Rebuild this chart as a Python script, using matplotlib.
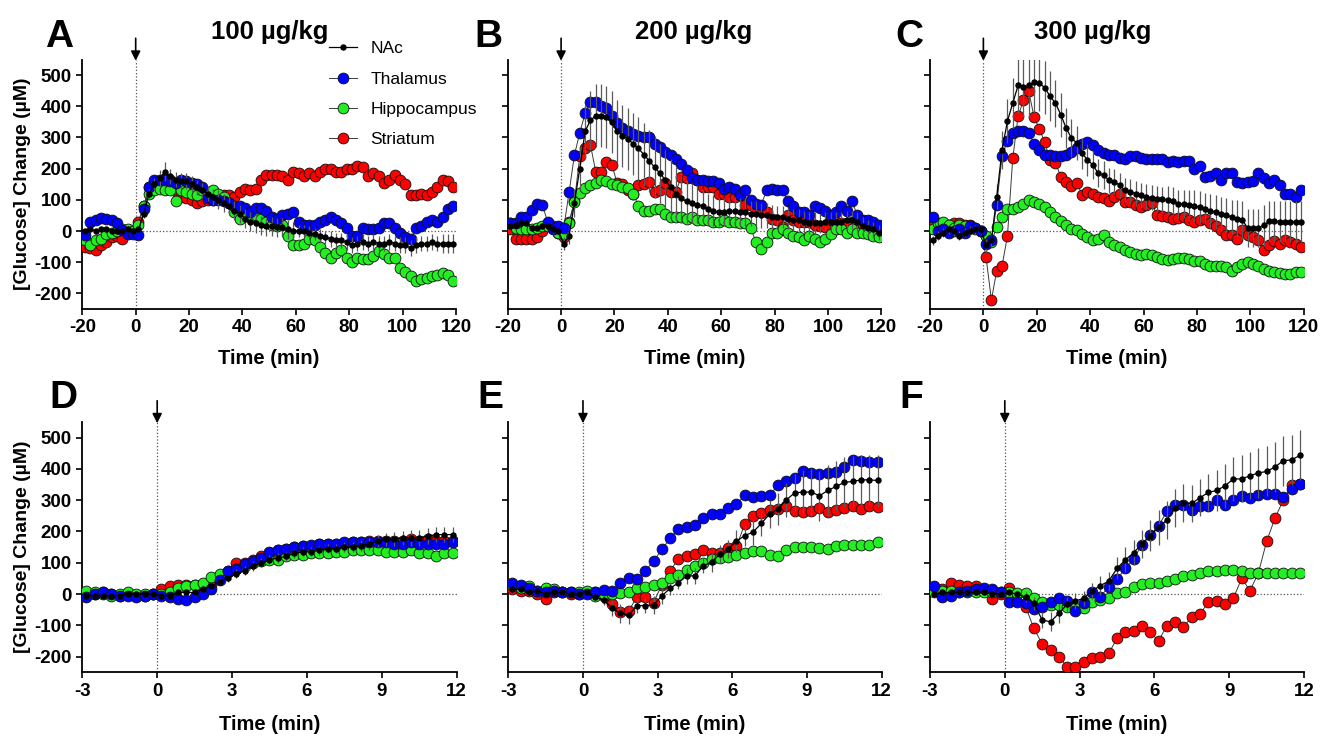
import numpy as np
import matplotlib
matplotlib.use('Agg')
import matplotlib.pyplot as plt
from matplotlib.lines import Line2D

plt.rcParams['font.family'] = ['Liberation Sans', 'DejaVu Sans']
plt.rcParams['axes.unicode_minus'] = False

# sample times: 2-min bins (top row), 20-s bins (bottom row)
t_long = np.arange(-19, 120, 2)
t_short = np.arange(-17, 72, 2) / 6.0

# ---------------- A : 100 ug/kg, 2-min bins ----------------
a_nac = [0, 5, 0, 5, 5, 0, 0, 0, 5, 0,
         5, 55, 120, 150, 170, 190, 175, 165, 160, 160,
         150, 140, 130, 120, 110, 100, 90, 80, 65, 55,
         40, 30, 25, 18, 15, 15, 12, 12, 5, 0,
         0, 0, -5, -10, -15, -20, -25, -30, -30, -35,
         -45, -40, -35, -40, -35, -40, -40, -35, -40, -45,
         -45, -55, -45, -40, -40, -35, -40, -40, -40, -40]
a_nac_sem = [8, 8, 8, 8, 8, 8, 8, 8, 8, 8,
             8, 12, 15, 20, 25, 30, 25, 25, 25, 25,
             25, 25, 25, 25, 25, 30, 30, 30, 30, 30,
             30, 30, 30, 30, 30, 30, 30, 30, 30, 30,
             20, 20, 20, 20, 20, 20, 25, 25, 25, 25,
             25, 25, 25, 25, 25, 25, 25, 25, 25, 25,
             25, 25, 25, 25, 25, 25, 25, 30, 30, 30]
a_thal = [-13, 30, 35, 41, 38, 35, 25, 3, -10, -8,
          -13, 70, 140, 165, 165, 165, 160, 155, 165, 160,
          155, 150, 140, 105, 100, 100, 95, 90, 80, 80,
          75, 60, 75, 75, 65, 45, 40, 50, 55, 60,
          30, 20, 20, 20, 30, 35, 45, 35, 25, 10,
          -15, -15, 10, 5, 5, 10, 25, 25, 10, -5,
          -20, -25, 10, 15, 30, 35, 30, 45, 70, 80]
a_hipp = [-30, -45, -30, -25, -10, -5, 0, 5, 5, 0,
          20, 80, 120, 130, 135, 130, 130, 95, 130, 125,
          120, 115, 130, 125, 130, 120, 110, 90, 60, 40,
          55, 45, 50, 40, 30, 20, 15, 20, -15, -45,
          -45, -40, -25, -30, -50, -70, -85, -70, -60, -85,
          -100, -85, -90, -90, -80, -65, -75, -85, -85, -120,
          -130, -145, -160, -155, -150, -145, -140, -135, -140, -160]
a_str = [-50, -55, -60, -45, -35, -20, -15, -25, -5, 0,
         30, 80, 140, 155, 160, 165, 165, 130, 110, 105,
         100, 90, 95, 100, 100, 105, 115, 115, 110, 125,
         135, 130, 135, 165, 180, 180, 180, 175, 165, 190,
         185, 175, 185, 175, 190, 200, 200, 190, 190, 200,
         200, 210, 205, 175, 185, 175, 155, 165, 180, 165,
         150, 115, 115, 120, 115, 125, 140, 165, 160, 140]

# ---------------- B : 200 ug/kg ----------------
b_nac = [15, 20, 25, 25, 10, 10, 15, 15, 5, 0,
         -40, -15, 90, 200, 320, 355, 370, 370, 365, 350,
         320, 305, 295, 280, 265, 245, 225, 205, 185, 165,
         140, 120, 105, 95, 90, 85, 80, 70, 65, 60,
         60, 65, 65, 60, 60, 55, 55, 50, 50, 45,
         45, 45, 40, 35, 35, 30, 25, 25, 25, 30,
         30, 30, 30, 35, 35, 30, 15, 10, 5, -5]
b_nac_sem = [10, 10, 10, 10, 10, 10, 10, 10, 10, 10,
             20, 25, 45, 70, 85, 95, 100, 100, 100, 100,
             100, 100, 100, 100, 100, 100, 100, 100, 95, 95,
             90, 85, 80, 70, 65, 60, 55, 50, 50, 45,
             45, 45, 45, 45, 45, 40, 40, 40, 40, 40,
             35, 35, 35, 35, 35, 35, 35, 35, 30, 30,
             30, 30, 30, 30, 30, 30, 30, 25, 25, 25]
b_thal = [25, 25, 45, 45, 66, 88, 83, 29, 5, 15,
          10, 125, 244, 315, 377, 415, 415, 400, 396, 370,
          345, 330, 320, 310, 305, 300, 300, 280, 270, 255,
          245, 230, 215, 195, 170, 165, 165, 160, 160, 155,
          135, 140, 135, 115, 130, 100, 88, 85, 130, 135,
          130, 130, 95, 80, 60, 60, 50, 80, 75, 65,
          50, 60, 80, 65, 95, 50, 35, 35, 30, 20]
b_hipp = [25, 10, 5, 5, 5, 10, 15, 15, 10, -5,
          -10, 25, 94, 122, 137, 147, 155, 163, 160, 150,
          147, 140, 137, 120, 80, 65, 65, 70, 70, 55,
          45, 45, 45, 40, 45, 35, 35, 35, 30, 30,
          35, 30, 30, 25, 25, 10, -35, -57, -35, -6,
          -5, 5, -5, -15, -20, -30, -15, -25, -35, -25,
          -10, 5, 5, -5, 5, -5, -5, -10, -15, -20]
b_str = [5, -25, -25, -25, -25, -20, 0, 25, 15, -5,
         -20, 30, 95, 239, 266, 276, 190, 190, 222, 212,
         155, 150, 130, 120, 147, 150, 158, 126, 131, 153,
         126, 126, 174, 170, 185, 163, 142, 142, 142, 120,
         120, 110, 110, 115, 83, 83, 72, 70, 60, 40,
         34, 13, 50, 35, 29, 30, 30, 20, 15, 13,
         35, 30, 25, 25, 30, 30, 20, 10, 10, 10]

# ---------------- C : 300 ug/kg ----------------
c_nac = [-30, -15, -5, 5, 0, -15, -5, 0, 5, 5,
         -46, -30, 110, 260, 352, 410, 467, 462, 467, 477,
         475, 459, 432, 410, 373, 330, 298, 282, 249, 228,
         212, 185, 180, 163, 158, 147, 131, 126, 120, 115,
         110, 107, 104, 102, 99, 95, 88, 86, 83, 80,
         77, 72, 65, 60, 55, 51, 45, 40, 35, 10,
         10, 10, 18, 31, 32, 30, 30, 30, 30, 30]
c_nac_sem = [15, 15, 15, 15, 15, 15, 15, 15, 15, 15,
             20, 20, 40, 60, 70, 80, 90, 95, 100, 95,
             90, 85, 80, 75, 70, 65, 60, 55, 50, 50,
             45, 45, 45, 40, 40, 40, 40, 40, 40, 40,
             40, 40, 40, 40, 45, 45, 45, 45, 50, 50,
             50, 50, 55, 55, 55, 55, 55, 60, 60, 60,
             60, 60, 65, 65, 65, 65, 65, 65, 65, 65]
c_thal = [45, 0, 5, -5, 0, 5, -5, 15, 10, 0,
          -40, -30, 85, 240, 290, 315, 320, 320, 315, 280,
          260, 245, 245, 240, 240, 245, 255, 265, 280, 285,
          275, 260, 250, 245, 245, 235, 230, 240, 240, 235,
          230, 230, 230, 230, 220, 225, 220, 225, 225, 200,
          210, 172, 175, 185, 165, 185, 187, 158, 155, 158,
          160, 187, 169, 153, 163, 147, 120, 120, 110, 131]
c_hipp = [8, 26, 29, 20, 10, 20, 15, 10, 5, 0,
          -15, -35, 13, 45, 72, 70, 77, 88, 101, 94,
          86, 77, 61, 45, 32, 18, 8, 2, -9, -19,
          -30, -25, -14, -35, -46, -52, -62, -68, -73, -78,
          -75, -78, -84, -89, -92, -89, -86, -86, -89, -95,
          -95, -105, -111, -111, -113, -116, -127, -114, -105, -100,
          -105, -111, -121, -127, -132, -135, -138, -138, -132, -132]
c_str = [15, 10, 15, 20, 25, 25, 20, 20, 10, 0,
         -84, -221, -127, -111, -17, 233, 368, 419, 448, 365,
         327, 284, 228, 219, 174, 158, 144, 153, 117, 126,
         120, 110, 105, 97, 108, 120, 94, 94, 85, 77,
         83, 91, 51, 47, 45, 40, 42, 45, 34, 29,
         34, 40, 26, 15, 2, -14, -14, -25, 2, -14,
         -20, -28, -60, -46, -32, -41, -28, -35, -41, -52]

# ---------------- D : 100 ug/kg, 20-s bins ----------------
d_nac = [-5, -5, -5, -5, -5, 0, 0, 0, 0,
         -5, -5, 5, 5, 5, 15, 25, 40, 50, 65,
         75, 90, 100, 110, 115, 120, 130, 135, 135, 140,
         145, 145, 150, 150, 155, 160, 170, 175, 175, 180,
         180, 180, 185, 190, 190, 190]
d_nac_sem = [5, 5, 5, 5, 5, 5, 5, 5, 5,
             5, 5, 8, 8, 10, 10, 12, 12, 12, 15,
             15, 15, 15, 15, 15, 15, 15, 15, 15, 15,
             15, 15, 15, 15, 18, 18, 20, 20, 22, 22,
             25, 25, 25, 25, 25, 25]
d_thal = [-10, 0, 5, 0, -5, -5, -10, -5, 0,
          -5, -10, -15, -20, -10, 0, 15, 45, 75, 80,
          95, 105, 115, 135, 140, 145, 150, 155, 157, 160,
          160, 160, 165, 165, 165, 165, 165, 165, 160, 160,
          165, 160, 160, 160, 160, 165]
d_hipp = [10, 5, 0, -5, 0, 5, 0, 0, 0,
          0, 5, 20, 25, 30, 35, 55, 65, 75, 80,
          90, 100, 105, 110, 110, 120, 125, 125, 130, 130,
          130, 135, 135, 140, 140, 140, 140, 135, 135, 135,
          140, 130, 130, 120, 130, 130]
d_str = [-5, 0, 5, 0, -5, 0, -5, -5, 0,
         15, 25, 30, 30, 30, 30, 30, 55, 70, 100,
         100, 110, 120, 130, 140, 145, 150, 155, 155, 160,
         160, 160, 160, 165, 165, 170, 170, 170, 170, 170,
         175, 170, 175, 170, 170, 170]

# ---------------- E : 200 ug/kg, 20-s bins ----------------
e_nac = [15, 15, 5, 10, 0, 5, 5, 0, 0,
         5, -10, -20, -45, -62, -67, -37, -37, -35, -6,
         18, 36, 58, 58, 91, 101, 128, 144, 169, 187,
         198, 226, 256, 272, 301, 323, 326, 326, 314, 331,
         344, 357, 360, 365, 365, 363]
e_nac_sem = [8, 8, 8, 8, 8, 8, 8, 8, 8,
             8, 10, 15, 25, 30, 30, 25, 25, 30, 25,
             20, 20, 25, 25, 25, 30, 30, 30, 35, 35,
             40, 40, 45, 50, 55, 60, 70, 75, 80, 80,
             80, 80, 80, 80, 80, 80]
e_thal = [35, 30, 20, 10, 5, 10, 5, 5, 0,
          0, 5, 13, 11, 34, 50, 47, 75, 104, 143,
          178, 207, 214, 221, 243, 256, 256, 275, 287, 315,
          310, 312, 315, 349, 360, 371, 392, 387, 384, 387,
          390, 406, 430, 424, 422, 421]
e_hipp = [30, 20, 25, 10, 20, 15, 5, 5, 5,
          10, -5, 0, 0, 2, 7, 18, 22, 30, 34,
          50, 61, 77, 88, 100, 111, 114, 117, 125, 130,
          136, 138, 125, 122, 141, 150, 150, 150, 148, 143,
          154, 156, 156, 156, 158, 165]
e_str = [15, 10, 10, 0, -15, 5, 5, 0, 0,
         5, 5, -5, -33, -57, -55, -8, -8, -28, 30,
         75, 111, 120, 127, 141, 130, 132, 146, 152, 224,
         248, 258, 269, 272, 280, 266, 261, 264, 275, 261,
         269, 275, 280, 272, 280, 278]

# ---------------- F : 300 ug/kg, 20-s bins ----------------
f_nac = [0, 5, 5, 5, 5, 5, 5, 0, 0,
         5, 0, -10, -30, -83, -89, -62, -33, -22, -14,
         10, 27, 41, 82, 109, 132, 160, 187, 213, 237,
         275, 291, 290, 308, 325, 331, 346, 368, 368, 378,
         387, 392, 406, 426, 429, 443]
f_nac_sem = [8, 8, 8, 8, 8, 8, 8, 8, 8,
             8, 10, 15, 20, 25, 30, 30, 25, 25, 25,
             25, 30, 30, 35, 40, 40, 45, 50, 55, 60,
             60, 60, 60, 60, 60, 65, 70, 70, 75, 75,
             80, 80, 80, 80, 80, 80]
f_thal = [25, -10, -5, 5, 10, 15, 20, 15, 5,
          -25, -25, -30, -48, -43, -25, -14, -22, -53, -28,
          7, -9, 24, 47, 82, 113, 157, 189, 218, 264,
          284, 284, 269, 280, 280, 301, 285, 301, 314, 307,
          317, 320, 320, 310, 335, 351]
f_hipp = [5, 10, 10, 5, 5, 5, 5, 5, 5,
          7, 4, 4, -14, -25, -35, -35, -43, -46, -46,
          -25, -19, -14, 4, 7, 24, 31, 34, 34, 42,
          47, 56, 61, 66, 72, 75, 77, 77, 74, 68,
          68, 68, 68, 68, 66, 68]
f_str = [20, 15, 35, 30, 25, 25, 15, -15, 0,
         18, 0, -40, -110, -160, -180, -200, -233, -233, -217,
         -203, -200, -190, -142, -121, -118, -101, -122, -150, -101,
         -91, -105, -73, -64, -25, -21, -32, -14, 50, 11,
         66, 168, 242, 300, 349, 352]

series_names = ['NAc', 'Thalamus', 'Hippocampus', 'Striatum']
colors = {'Thalamus': '#0000ff', 'Hippocampus': '#22ee22', 'Striatum': '#ff0000'}
doses = ['100 \u00b5g/kg', '200 \u00b5g/kg', '300 \u00b5g/kg']

W, H = 1321, 739
fig = plt.figure(figsize=(W / 100, H / 100), dpi=100)


def rect(x0, x1, ytop, ybot):
    return [x0 / W, 1 - ybot / H, (x1 - x0) / W, (ybot - ytop) / H]


panels = [
    ('A', rect(82.3, 456, 59.5, 309), t_long, a_nac, a_nac_sem, a_thal, a_hipp, a_str),
    ('B', rect(507.7, 881.4, 59.5, 309), t_long, b_nac, b_nac_sem, b_thal, b_hipp, b_str),
    ('C', rect(930, 1303.7, 59.5, 309), t_long, c_nac, c_nac_sem, c_thal, c_hipp, c_str),
    ('D', rect(82.3, 456.7, 422, 672.2), t_short, d_nac, d_nac_sem, d_thal, d_hipp, d_str),
    ('E', rect(508.3, 881.7, 422, 672.2), t_short, e_nac, e_nac_sem, e_thal, e_hipp, e_str),
    ('F', rect(930, 1304, 422, 672.2), t_short, f_nac, f_nac_sem, f_thal, f_hipp, f_str),
]
letter_pos = {'A': (45, 47), 'B': (474, 47), 'C': (895, 47),
              'D': (49, 408), 'E': (477, 408), 'F': (899, 408)}

for i, (lab, r, t, nac, sem, thal, hipp, stri) in enumerate(panels):
    ax = fig.add_axes(r)
    top = i < 3
    xmax = 120 if top else 12
    xmin = -20 if top else -3

    ax.axvline(0, color='#555555', ls=':', lw=0.9, zorder=1)
    ax.hlines(0, 0, xmax, color='#555555', linestyles=':', lw=0.9, zorder=1)

    for name, y in (('Striatum', stri), ('Hippocampus', hipp), ('Thalamus', thal)):
        ax.plot(t, y, '-o', color='#3a3a3a', lw=0.7, ms=7.8,
                mfc=colors[name], mec='#111111', mew=0.6, zorder=3)
    ax.errorbar(t, nac, yerr=sem, fmt='-o', color='k', ms=3.6, lw=0.9,
                ecolor='#5a5a5a', elinewidth=0.9, capsize=0, zorder=5)

    ax.set_xlim(xmin, xmax)
    ax.set_ylim(-250, 550)
    ax.set_xticks(np.arange(-20, 121, 20) if top else np.arange(-3, 13, 3))
    ax.set_yticks(np.arange(-200, 501, 100))
    for s in ('top', 'right'):
        ax.spines[s].set_visible(False)
    for s in ('left', 'bottom'):
        ax.spines[s].set_linewidth(1.3)
    ax.tick_params(direction='out', length=4, width=1.2, pad=3.5,
                   labelsize=13.5)
    for tl in ax.get_xticklabels() + ax.get_yticklabels():
        tl.set_fontweight('bold')
    if i % 3 != 0:
        ax.tick_params(labelleft=False)
    else:
        ax.set_ylabel('[Glucose] Change (\u00b5M)', fontsize=14,
                      fontweight='bold')
        ax.yaxis.set_label_coords(-0.137, 0.5)
    ax.set_xlabel('Time (min)', fontsize=14.5, fontweight='bold')
    ax.xaxis.set_label_coords(0.5, -0.16 if top else -0.17)

    ax.annotate('', xy=(0, 0.995), xycoords=('data', 'axes fraction'),
                xytext=(0, 1.085), textcoords=('data', 'axes fraction'),
                arrowprops=dict(arrowstyle='-|>', color='k', lw=1.2,
                                mutation_scale=14, shrinkA=0, shrinkB=0),
                annotation_clip=False)

    lx, ly = letter_pos[lab]
    fig.text(lx / W, 1 - ly / H, lab, fontsize=28, fontweight='bold',
             ha='left', va='baseline')

for (x, d) in zip((270, 694, 1093), doses):
    fig.text(x / W, 1 - 32 / H, d, fontsize=18.5, fontweight='bold',
             ha='center', va='center')

handles = [Line2D([], [], color='k', marker='o', ms=3.6, lw=0.9)]
for name in series_names[1:]:
    handles.append(Line2D([], [], color='#3a3a3a', lw=0.7, marker='o', ms=7.8,
                          mfc=colors[name], mec='#111111', mew=0.6))
fig.legend(handles, series_names, loc='upper left',
           bbox_to_anchor=(329 / W, 1 - 41 / H), frameon=False,
           fontsize=12.5, handlelength=1.6, handletextpad=0.8,
           labelspacing=0.88, borderpad=0, borderaxespad=0)

fig.savefig('out.png', dpi=100)
